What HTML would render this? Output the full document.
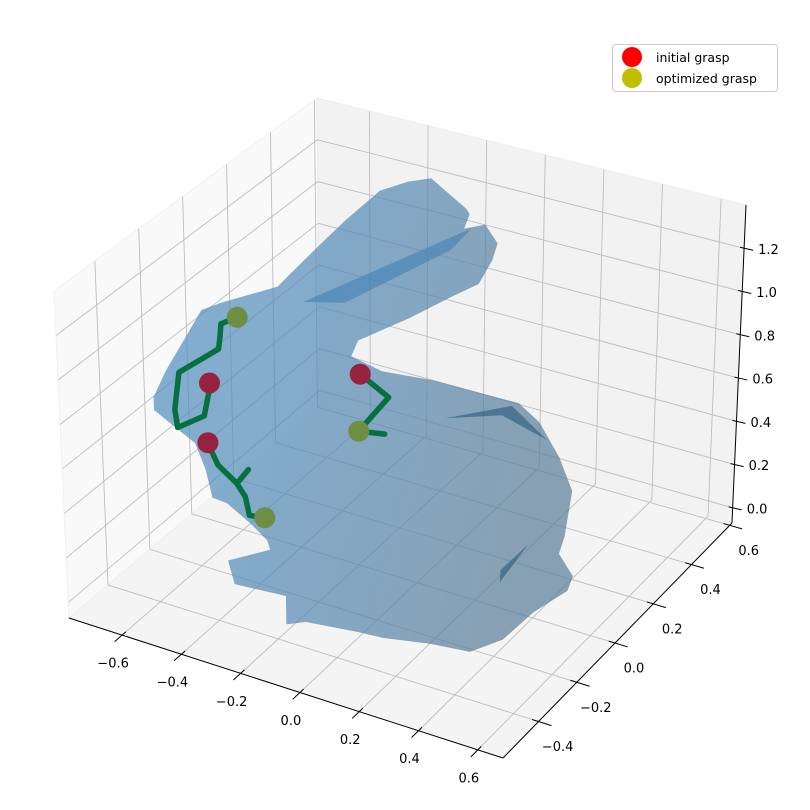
<!DOCTYPE html>
<html><head><meta charset="utf-8">
<style>
html,body{margin:0;padding:0;background:#fff;}
svg{display:block;font-family:"DejaVu Sans","Liberation Sans",sans-serif;}
</style></head>
<body>
<svg id="chart" width="810" height="810" viewBox="0 0 810 810" xmlns="http://www.w3.org/2000/svg">
<defs>
<linearGradient id="bunnyGrad" x1="0" y1="0" x2="1" y2="0.3">
<stop offset="0" stop-color="#4f8fc0"/>
<stop offset="0.55" stop-color="#5488b3"/>
<stop offset="1" stop-color="#5a7d98"/>
</linearGradient>
</defs>
<g id="panes"></g>
<g id="grid"></g>
<g id="axes"></g>
<g id="bunny"></g>
<g id="grasps"></g>
<g id="legend">
<rect x="612.5" y="44.5" width="165" height="47" rx="3" fill="#fff" fill-opacity="0.8" stroke="#cccccc"/>
<circle cx="632" cy="57" r="10" fill="#ff0000"/>
<text x="656" y="62" font-size="12.5" fill="#000">initial grasp</text>
<circle cx="632" cy="78" r="10" fill="#bfbf00"/>
<text x="656" y="83" font-size="12.5" fill="#000">optimized grasp</text>
</g>
</svg>
<script>
const xTicks = [-0.6, -0.4, -0.2, 0.0, 0.2, 0.4, 0.6];
const yTicks = [-0.4, -0.2, 0.0, 0.2, 0.4, 0.6];
const zTicks = [0.0, 0.2, 0.4, 0.6, 0.8, 1.0, 1.2];
const xTickLabels = ["\u22120.6","\u22120.4","\u22120.2","0.0","0.2","0.4","0.6"];
const yTickLabels = ["\u22120.4","\u22120.2","0.0","0.2","0.4","0.6"];
const zTickLabels = ["0.0","0.2","0.4","0.6","0.8","1.0","1.2"];
const xRange = [-0.779, 0.685];
const yRange = [-0.586, 0.612];
const zRange = [-0.07, 1.40];

// bunny silhouette (x, z) at y = bunnyY
const bunnyY = 0.013;
const bunnyX = [0.04,0.157,0.168,0.15,0.22,0.261,0.244,0.199,0.105,-0.034,-0.206,-0.23,-0.126,0.047,0.164,0.337,0.407,0.476,0.521,0.497,0.479,0.528,0.51,0.393,0.289,0.175,0.036,-0.126,-0.214,-0.397,-0.466,-0.466,-0.645,-0.666,-0.518,-0.528,-0.586,-0.666,-0.715,-0.736,-0.77,-0.839,-0.909,-0.909,-0.864,-0.794,-0.736,-0.666,-0.476,-0.441,-0.338,-0.245,-0.13,-0.037];
const bunnyZ = [1.74,1.64,1.62,1.55,1.59,1.52,1.44,1.32,1.23,1.09,0.93,0.85,0.82,0.84,0.84,0.84,0.78,0.65,0.52,0.31,0.23,0.15,0.08,-0.06,-0.22,-0.32,-0.34,-0.38,-0.39,-0.42,-0.46,-0.33,-0.35,-0.25,-0.14,-0.10,-0.045,0.015,0.02,0.14,0.25,0.30,0.35,0.41,0.55,0.73,0.88,0.94,1.08,1.14,1.31,1.46,1.63,1.70];
const patchEarX = [-0.39,0.175,0.105,-0.25];
const patchEarZ = [1.04,1.56,1.44,1.085];
const patchBodyX = [0.088,0.313,0.434,0.279];
const patchBodyZ = [0.686,0.82,0.712,0.767];
const patchLowX = [0.277,0.374,0.279];
const patchLowZ = [0.028,0.233,0.083];

// grasp finger paths (x, z) at y = bunnyY
const pathAX = [-0.715,-0.719,-0.736,-0.829,-0.837,-0.819,-0.681,-0.674,-0.671,-0.615];
const pathAZ = [0.55,0.50,0.39,0.30,0.38,0.56,0.72,0.79,0.84,0.89];
const pathBX = [-0.726,-0.716,-0.693,-0.629,-0.588,-0.629,-0.601,-0.588,-0.525];
const pathBZ = [0.27,0.24,0.18,0.12,0.20,0.12,0.07,-0.01,0.00];
const pathCX = [-0.2,-0.104,-0.207,-0.118];
const pathCZ = [0.78,0.71,0.52,0.54];
const initialX = [-0.715,-0.726,-0.2];
const initialZ = [0.55,0.27,0.78];
const optimizedX = [-0.615,-0.535,-0.207];
const optimizedZ = [0.89,0.00,0.52];

const NS = "http://www.w3.org/2000/svg";
const C = [[[[69,618],[54,291]],[[320,405],[317,98]]],[[[503,758],[503,398]],[[732,523],[746,205]]]];
function P(x,y,z){
  const u=(x-xRange[0])/(xRange[1]-xRange[0]);
  const v=(y-yRange[0])/(yRange[1]-yRange[0]);
  const w=(z-zRange[0])/(zRange[1]-zRange[0]);
  const r=[0,0];
  for(let i=0;i<2;i++)for(let j=0;j<2;j++)for(let k=0;k<2;k++){
    const f=(i?u:1-u)*(j?v:1-v)*(k?w:1-w);
    r[0]+=f*C[i][j][k][0]; r[1]+=f*C[i][j][k][1];
  }
  return r;
}
function mk(tag,attrs,parent){
  const e=document.createElementNS(NS,tag);
  for(const k in attrs)e.setAttribute(k,attrs[k]);
  parent.appendChild(e);return e;
}
function pts(a){return a.map(p=>p[0].toFixed(1)+","+p[1].toFixed(1)).join(" ");}
const [x0,x1]=xRange,[y0,y1]=yRange,[z0,z1]=zRange;
const panes=document.getElementById("panes");
let e;
e=mk("polygon",{points:pts([P(x0,y0,z0),P(x0,y1,z0),P(x0,y1,z1),P(x0,y0,z1)]),fill:"#f9f9f9",stroke:"#f0f0f0"},panes);


e=mk("polygon",{points:pts([P(x0,y1,z0),P(x1,y1,z0),P(x1,y1,z1),P(x0,y1,z1)]),fill:"#f2f2f2",stroke:"#ececec"},panes);


e=mk("polygon",{points:pts([P(x0,y0,z0),P(x1,y0,z0),P(x1,y1,z0),P(x0,y1,z0)]),fill:"#f4f4f4",stroke:"#eeeeee"},panes);



const grid=document.getElementById("grid");
function gl(a,b,name){
  const l=mk("line",{x1:a[0],y1:a[1],x2:b[0],y2:b[1],stroke:"#bdbdbd","stroke-width":0.9},grid);
  
  
}
xTicks.forEach(x=>{gl(P(x,y0,z0),P(x,y1,z0),'floor-gridline-x');gl(P(x,y1,z0),P(x,y1,z1),'back-gridline-x');});
yTicks.forEach(y=>{gl(P(x0,y,z0),P(x1,y,z0),'floor-gridline-y');gl(P(x0,y,z0),P(x0,y,z1),'left-gridline-y');});
zTicks.forEach(z=>{gl(P(x0,y0,z),P(x0,y1,z),'left-gridline-z');gl(P(x0,y1,z),P(x1,y1,z),'back-gridline-z');});

const axes=document.getElementById("axes");
function al(a,b,name,w){
  const l=mk("line",{x1:a[0],y1:a[1],x2:b[0],y2:b[1],stroke:"#000","stroke-width":w},axes);
  
  
}
function tx(p,s,anchor,name){
  const t=mk("text",{x:p[0].toFixed(1),y:p[1].toFixed(1),"font-size":13,"text-anchor":anchor,"dominant-baseline":"middle",fill:"#000"},axes);
  t.textContent=s;
  
  
}
al(P(x0,y0,z0),P(x1,y0,z0),'x-axis-line',1);
al(P(x1,y0,z0),P(x1,y1,z0),'y-axis-line',1);
al(P(x1,y1,z0),P(x1,y1,z1),'z-axis-line',1);
const dy=(y1-y0),dx=(x1-x0);
xTicks.forEach((x,i)=>{
  const a=P(x,y0+0.015*dy,z0),b=P(x,y0-0.03*dy,z0);
  al(a,b,'x-tick',1);
  const p=P(x,y0,z0);
  tx([p[0]-9,p[1]+29],xTickLabels[i],"middle",'x-tick-label');
});
yTicks.forEach((y,i)=>{
  const a=P(x1-0.015*dx,y,z0),b=P(x1+0.03*dx,y,z0);
  al(a,b,'y-tick',1);
  const p=P(x1,y,z0);
  tx([p[0]+19,p[1]+26],yTickLabels[i],"middle",'y-tick-label');
});
zTicks.forEach((z,i)=>{
  const p=P(x1,y1,z);
  al([p[0]-4,p[1]-1],[p[0]+9,p[1]+2],'z-tick',1);
  tx([p[0]+14,p[1]+2],zTickLabels[i],"start",'z-tick-label');
});

const bunny=document.getElementById("bunny");
function poly(X,Z,fill,op,name){
  const q=X.map((x,i)=>P(x,bunnyY,Z[i]));
  const p=mk("polygon",{points:pts(q),fill:fill,"fill-opacity":op,stroke:"none"},bunny);
  
  
}
poly(bunnyX,bunnyZ,"url(#bunnyGrad)",0.7,'bunny-mesh');
poly(patchEarX,patchEarZ,"#3a7db0",0.55,'bunny-ear-shadow');
poly(patchBodyX,patchBodyZ,"#2f5f80",0.65,'bunny-body-shadow');
poly(patchLowX,patchLowZ,"#2f5f80",0.65,'bunny-lower-shadow');

const grasps=document.getElementById("grasps");
function path(X,Z,name){
  const q=X.map((x,i)=>P(x,bunnyY,Z[i]));
  const p=mk("polyline",{points:pts(q),fill:"none",stroke:"#07703f","stroke-width":5.5,"stroke-linejoin":"round","stroke-linecap":"round"},grasps);
  
  
}
path(pathAX,pathAZ,'finger-path-a');
path(pathBX,pathBZ,'finger-path-b');
path(pathCX,pathCZ,'finger-path-c');
initialX.forEach((x,i)=>{
  const p=P(x,bunnyY,initialZ[i]);
  const c=mk("circle",{cx:p[0].toFixed(1),cy:p[1].toFixed(1),r:10.5,fill:"#972240"},grasps);
  
  
});
optimizedX.forEach((x,i)=>{
  const p=P(x,bunnyY,optimizedZ[i]);
  const c=mk("circle",{cx:p[0].toFixed(1),cy:p[1].toFixed(1),r:10.5,fill:"#6e8e44"},grasps);
  
  
});
</script>
</body></html>
